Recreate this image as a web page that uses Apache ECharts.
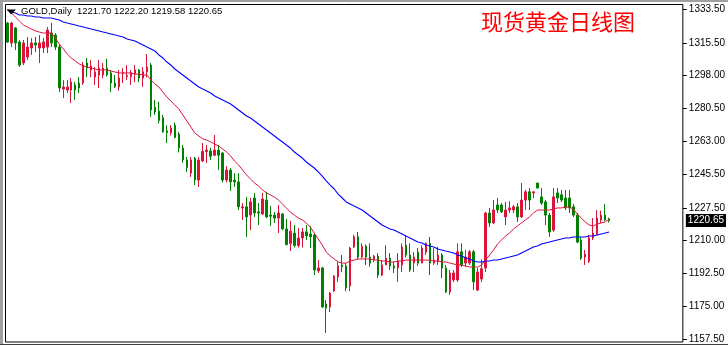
<!DOCTYPE html>
<html>
<head>
<meta charset="utf-8">
<script src="https://cdn.jsdelivr.net/npm/echarts@6/dist/echarts.min.js"></script>
<style>
html,body{margin:0;padding:0;background:#fff;}
#c{width:728px;height:345px;}
</style>
</head>
<body>
<div id="c"></div>
<script>
// ---- data ----
const symbolTitle = "GOLD,Daily";
const lastQuote = ["1221.70", "1222.20", "1219.58", "1220.65"];
const chartTitle = "现货黄金日线图";
const lastPrice = 1220.65;
const yTicks = [1333.5, 1315.5, 1298.0, 1280.5, 1263.0, 1245.5, 1227.5, 1210.0, 1192.5, 1175.0, 1157.5];
const barCount = 170; // includes the empty right margin of the chart
const categories = Array.from({length: barCount}, (_, i) => "D" + (i + 1));

const openVals = [
1326.0,1315.4,1323.4,1315.9,1304.7,1307.9,1312.7,1315.4,1312.7,1312.7,
1313.2,1320.7,1319.6,1313.2,1290.8,1290.3,1290.3,1293.0,1294.0,1294.0,
1304.7,1301.0,1297.2,1298.3,1298.3,1302.0,1299.4,1294.0,1292.0,1299.0,
1297.5,1297.5,1299.0,1301.0,1296.7,1300.0,1303.6,1281.0,1279.0,1275.5,
1268.5,1267.5,1271.5,1266.8,1259.4,1253.0,1246.0,1254.0,1242.3,1252.5,
1257.5,1257.8,1255.5,1258.3,1256.7,1242.3,1247.6,1242.3,1241.3,1227.4,
1228.0,1223.6,1232.7,1225.3,1224.2,1231.6,1223.6,1223.6,1222.0,1224.2,
1216.2,1208.5,1214.0,1207.4,1211.4,1214.6,1213.5,1213.0,1193.8,1195.4,
1176.2,1174.6,1183.1,1190.6,1197.0,1196.5,1185.8,1206.6,1212.0,1201.2,
1207.0,1201.2,1200.0,1201.7,1191.6,1197.0,1200.6,1196.5,1195.4,1197.0,
1207.5,1202.3,1198.0,1203.8,1198.0,1203.8,1208.5,1198.0,1199.0,1202.3,
1195.4,1182.6,1189.0,1189.0,1204.0,1198.0,1198.0,1204.0,1183.6,1189.5,
1195.4,1224.7,1219.4,1229.0,1229.0,1222.6,1226.3,1226.3,1228.0,1222.6,
1231.6,1236.0,1235.4,1240.7,1233.3,1230.6,1223.6,1215.6,1235.4,1234.4,
1232.7,1232.7,1228.0,1223.6,1210.3,1201.2,1199.0,1211.4,1213.5,1221.0,
1223.6,1221.70];
const closeVals = [
1315.9,1326.0,1315.4,1303.6,1315.4,1313.2,1315.4,1314.3,1315.4,1315.9,
1322.3,1315.4,1313.2,1291.4,1291.9,1291.9,1294.6,1290.3,1291.4,1303.6,
1302.0,1303.1,1299.9,1302.0,1302.0,1298.3,1294.0,1292.0,1296.7,1299.5,
1298.0,1299.5,1301.0,1296.7,1300.0,1302.5,1279.6,1278.6,1274.0,1268.0,
1267.5,1270.0,1265.0,1259.4,1253.0,1249.0,1253.0,1242.3,1253.0,1257.5,
1258.3,1255.0,1258.3,1255.5,1242.3,1247.6,1241.3,1241.3,1228.0,1228.0,
1222.6,1230.6,1224.7,1224.7,1232.2,1222.6,1223.0,1222.0,1224.7,1216.2,
1207.9,1215.0,1207.4,1211.4,1214.6,1212.5,1212.0,1194.3,1195.4,1174.6,
1174.0,1182.0,1191.0,1196.5,1196.0,1184.7,1206.0,1212.0,1201.2,1207.0,
1201.2,1198.0,1201.7,1191.6,1197.0,1200.6,1196.5,1195.4,1199.0,1206.6,
1202.3,1194.3,1201.2,1198.0,1206.0,1208.5,1198.0,1199.6,1202.3,1195.4,
1182.6,1192.7,1192.7,1204.0,1197.0,1201.2,1204.0,1188.0,1193.2,1195.0,
1224.7,1219.4,1226.3,1226.3,1225.3,1226.3,1227.4,1228.0,1222.6,1231.6,
1236.0,1231.6,1236.0,1238.0,1230.0,1223.6,1214.6,1233.3,1232.7,1231.6,
1227.4,1227.4,1223.6,1209.2,1200.6,1202.8,1211.4,1214.0,1222.0,1223.6,
1221.0,1220.65];
const lowVals = [
1315.4,1313.2,1311.6,1302.6,1303.6,1306.3,1309.0,1310.6,1304.7,1310.0,
1310.0,1313.2,1311.6,1289.2,1286.0,1288.7,1283.4,1285.0,1288.7,1293.0,
1297.2,1297.2,1293.0,1291.4,1296.5,1297.5,1289.2,1291.4,1290.0,1294.0,
1295.6,1293.0,1294.5,1294.5,1292.0,1297.0,1276.0,1277.0,1272.5,1267.5,
1262.0,1266.0,1264.5,1257.0,1251.4,1246.5,1244.0,1239.6,1238.6,1251.9,
1251.4,1253.0,1255.0,1247.6,1241.0,1241.0,1236.5,1238.6,1226.3,1221.0,
1211.9,1215.6,1222.6,1218.3,1223.6,1222.0,1217.8,1219.4,1214.0,1215.6,
1207.4,1204.4,1206.3,1206.3,1206.3,1210.3,1206.0,1191.6,1192.7,1174.0,
1160.7,1171.9,1182.6,1187.9,1193.2,1183.0,1183.0,1206.0,1200.0,1200.6,
1197.0,1196.0,1198.6,1190.0,1191.0,1197.0,1194.3,1192.7,1188.0,1193.2,
1201.0,1193.2,1193.2,1196.5,1198.0,1202.3,1191.6,1197.0,1197.0,1190.0,
1182.0,1181.0,1187.9,1187.9,1196.0,1196.0,1197.0,1183.6,1183.0,1187.9,
1193.2,1217.3,1218.9,1224.7,1224.7,1218.3,1224.7,1224.7,1220.0,1222.0,
1226.3,1226.3,1232.7,1238.0,1229.0,1218.3,1212.0,1214.6,1230.0,1230.6,
1226.3,1224.7,1222.6,1208.5,1199.6,1197.0,1198.0,1210.3,1213.0,1219.4,
1220.4,1219.58];
const highVals = [
1326.6,1326.6,1323.9,1317.0,1317.0,1318.6,1318.0,1318.6,1319.6,1318.0,
1323.9,1326.0,1320.7,1314.3,1295.6,1295.6,1296.7,1294.6,1297.2,1305.2,
1307.4,1306.3,1302.6,1306.3,1304.7,1307.0,1301.0,1298.3,1301.0,1302.0,
1303.6,1301.0,1303.6,1301.5,1302.5,1309.5,1304.7,1285.0,1284.0,1277.0,
1271.5,1271.5,1273.0,1268.0,1261.0,1254.6,1254.6,1254.6,1254.6,1262.0,
1261.0,1259.4,1266.3,1261.0,1257.3,1249.7,1248.7,1246.0,1246.0,1230.0,
1233.3,1232.7,1235.4,1230.0,1235.4,1236.0,1228.5,1225.3,1229.0,1224.7,
1221.5,1220.5,1218.3,1216.7,1216.7,1218.3,1217.8,1214.0,1199.6,1196.0,
1178.3,1182.6,1191.6,1198.6,1202.3,1198.0,1206.6,1213.0,1214.6,1208.5,
1208.0,1208.5,1202.3,1203.3,1199.6,1207.5,1203.3,1198.6,1203.3,1208.5,
1213.0,1208.5,1203.8,1206.0,1207.5,1209.0,1211.9,1206.0,1206.6,1203.3,
1197.0,1194.3,1194.3,1208.5,1208.5,1205.0,1205.0,1205.0,1195.4,1200.0,
1225.3,1227.4,1231.6,1232.7,1230.0,1230.6,1231.0,1229.0,1230.0,1240.7,
1237.0,1238.0,1236.0,1240.7,1238.0,1231.6,1224.7,1238.0,1238.0,1237.0,
1237.0,1237.0,1229.5,1224.7,1212.0,1205.0,1213.0,1222.0,1226.3,1226.0,
1229.5,1222.20];
const maRed = [
1333.0,1331.4,1329.2,1327.1,1325.0,1323.9,1322.8,1321.8,1321.2,1320.7,
1320.7,1320.7,1318.0,1314.8,1312.2,1309.5,1307.4,1305.8,1304.2,1303.1,
1302.6,1302.0,1301.5,1301.0,1301.0,1301.0,1300.4,1299.9,1299.4,1299.4,
1299.4,1299.4,1298.8,1298.8,1298.3,1298.3,1295.6,1293.5,1291.9,1289.2,
1286.6,1284.4,1282.3,1280.2,1277.0,1273.8,1270.6,1267.4,1265.8,1264.2,
1263.6,1262.6,1261.5,1260.4,1258.8,1257.2,1255.1,1252.4,1250.3,1247.6,
1245.0,1242.8,1240.7,1239.1,1237.0,1235.4,1234.3,1233.2,1231.6,1229.5,
1227.4,1225.2,1223.6,1222.0,1221.0,1219.4,1217.2,1214.0,1210.8,1207.6,
1203.9,1201.8,1200.2,1198.6,1198.0,1198.0,1199.1,1199.6,1200.2,1200.2,
1200.2,1200.2,1199.6,1199.6,1199.1,1199.1,1198.6,1198.6,1199.1,1199.1,
1199.6,1199.6,1199.6,1199.6,1199.6,1199.6,1199.6,1199.1,1199.1,1198.6,
1198.6,1198.0,1197.5,1197.0,1197.0,1196.4,1195.9,1195.9,1195.9,1197.0,
1199.6,1202.3,1205.0,1208.2,1210.3,1212.4,1214.0,1216.2,1217.8,1219.4,
1221.0,1222.6,1224.7,1226.3,1226.3,1226.3,1226.3,1226.8,1227.4,1227.4,
1227.9,1227.9,1226.8,1224.2,1222.0,1219.9,1218.3,1217.8,1218.8,1219.4,
1219.9,1221.5];
const maBlue = [
1333.0,1331.9,1331.4,1330.3,1330.3,1329.8,1329.8,1329.2,1329.2,1328.7,
1328.7,1328.7,1328.2,1327.6,1326.6,1326.0,1325.5,1325.0,1324.4,1323.9,
1323.4,1322.8,1322.3,1321.8,1321.2,1320.7,1320.2,1319.6,1319.1,1318.6,
1317.5,1317.0,1316.4,1315.4,1314.3,1313.2,1312.2,1311.1,1309.0,1307.4,
1305.2,1303.6,1301.5,1299.9,1298.3,1296.7,1295.1,1293.5,1291.9,1290.8,
1289.8,1288.7,1287.1,1286.0,1285.0,1283.9,1282.8,1281.2,1279.6,1278.0,
1276.4,1275.4,1273.8,1272.2,1270.6,1269.0,1267.4,1265.8,1264.2,1262.6,
1261.0,1259.4,1257.2,1255.6,1254.0,1251.9,1250.3,1248.7,1246.6,1244.4,
1241.8,1239.6,1237.5,1234.8,1232.7,1230.6,1229.5,1228.4,1227.4,1226.3,
1224.7,1223.1,1221.5,1219.9,1218.3,1217.2,1216.2,1215.6,1214.6,1213.5,
1212.4,1211.4,1210.3,1209.2,1208.7,1207.6,1207.1,1206.6,1205.5,1205.0,
1204.4,1203.9,1203.4,1202.3,1201.8,1200.7,1200.2,1199.1,1198.6,1198.6,
1199.1,1199.1,1199.6,1199.6,1200.2,1200.7,1201.2,1201.8,1202.3,1203.4,
1204.4,1205.5,1206.6,1207.1,1208.2,1208.7,1209.2,1209.8,1210.3,1210.8,
1211.4,1211.4,1211.9,1211.9,1211.9,1211.9,1212.4,1212.4,1213.0,1213.5,
1214.0,1214.6];

// ---- build ----
const candles = openVals.map((o, i) => [o, closeVals[i], lowVals[i], highVals[i]]);
const UP = '#DC143C', DOWN = '#008000';

const chart = echarts.init(document.getElementById('c'), null, {renderer: 'canvas'});
chart.setOption({
  animation: false,
  backgroundColor: '#ffffff',
  grid: {left: 5.5, top: 4.5, width: 680, height: 337.5, show: true,
         borderColor: '#000', borderWidth: 1, backgroundColor: '#fff'},
  xAxis: {type: 'category', data: categories, boundaryGap: true,
          axisLine: {show: false}, axisTick: {show: false}, axisLabel: {show: false},
          splitLine: {show: false}},
  yAxis: {type: 'value', position: 'right', min: 1155.9, max: 1335.9,
          splitLine: {show: false}, axisLine: {show: false},
          axisTick: {show: true, length: 4, lineStyle: {color: '#000'}, customValues: yTicks},
          axisLabel: {customValues: yTicks, formatter: v => v.toFixed(2), color: '#000',
                      fontSize: 10, fontFamily: 'Liberation Sans', margin: 6}},
  graphic: [
    {type: 'rect', shape: {x: 0, y: 0, width: 728, height: 2}, style: {fill: '#a0a0a0'}, z: 100},
    {type: 'rect', shape: {x: 0, y: 0, width: 3, height: 345}, style: {fill: '#a0a0a0'}, z: 100},
    {type: 'line', shape: {x1: 0, y1: 344.5, x2: 728, y2: 344.5}, style: {stroke: '#404040', lineWidth: 1}, z: 100},
    {type: 'polygon', shape: {points: [[7, 9.5], [16, 9.5], [11, 14.5]]}, style: {fill: '#000'}, z: 100},
    {type: 'text', left: 21, top: 6,
     style: {text: symbolTitle + '  ' + lastQuote.join(' '), fill: '#000',
             font: '9.5px "Liberation Sans"'}, z: 100},
    {type: 'text', left: 481, top: 11,
     style: {text: chartTitle, fill: '#ff0000', font: '22px "Noto Sans CJK SC"'}, z: 100}
  ],
  series: [
    {type: 'candlestick', data: candles, barWidth: 2,
     itemStyle: {color: UP, color0: DOWN, borderColor: UP, borderColor0: DOWN, borderWidth: 1},
     markLine: {silent: true, symbol: 'none', animation: false,
       lineStyle: {color: 'rgba(0,0,0,0)', width: 0},
       label: {show: true, position: 'end', distance: 3, formatter: lastPrice.toFixed(2),
               backgroundColor: '#000', color: '#fff', padding: [2, 2, 1, 2],
               fontSize: 10, fontFamily: 'Liberation Sans'},
       data: [{yAxis: lastPrice}]}},
    {type: 'line', data: maRed, symbol: 'none', lineStyle: {color: UP, width: 1}, itemStyle: {color: UP}},
    {type: 'line', data: maBlue, symbol: 'none', lineStyle: {color: '#0000ff', width: 1.1}, itemStyle: {color: '#0000ff'}}
  ]
});
</script>
</body>
</html>
